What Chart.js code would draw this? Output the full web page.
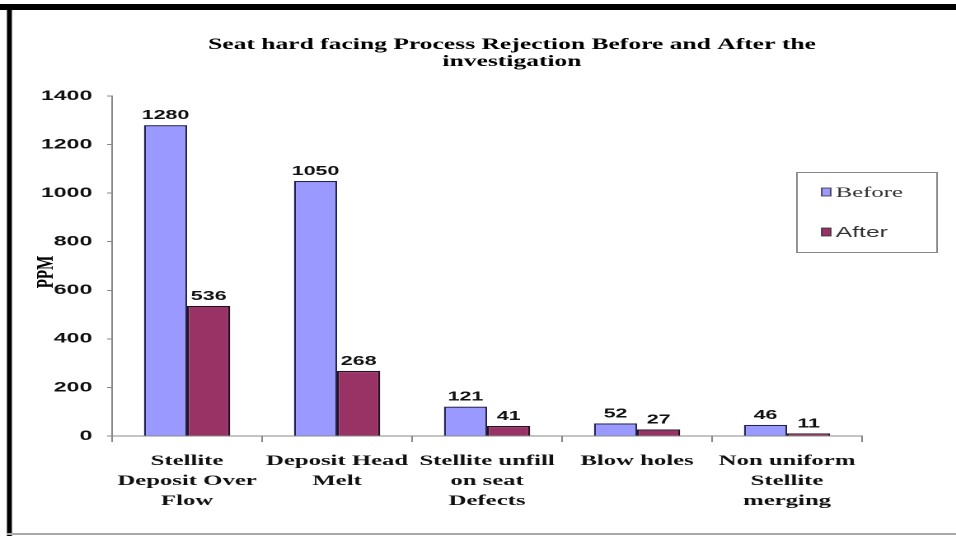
<!DOCTYPE html>
<html>
<head>
<meta charset="utf-8">
<script src="https://cdn.jsdelivr.net/npm/chart.js@4.4.1/dist/chart.umd.min.js"></script>
<style>
html,body{margin:0;padding:0;background:#fff;overflow:hidden;}
#wrap{width:956px;height:536px;overflow:hidden;}
canvas{display:block;transform-origin:0 0;transform:scaleX(1.648276);}
</style>
</head>
<body>
<div id="wrap"><canvas id="c" width="580" height="536"></canvas></div>
<script>
const chartTitle = ["Seat hard facing Process Rejection Before and After the", "investigation"];
const categories = [
  ["Stellite", "Deposit Over", "Flow"],
  ["Deposit Head", "Melt"],
  ["Stellite unfill", "on seat", "Defects"],
  ["Blow holes"],
  ["Non uniform", "Stellite", "merging"]
];
const seriesNames = ["Before", "After"];
const beforeValues = [1280, 1050, 121, 52, 46];
const afterValues = [536, 268, 41, 27, 11];
const yTicks = [0, 200, 400, 600, 800, 1000, 1200, 1400];
const yAxisTitle = "PPM";

const colors = ["#9999ff", "#993366"];

const decor = {
  id: "decor",
  afterDraw(chart) {
    const ctx = chart.ctx;
    ctx.save();
    // frame
    ctx.fillStyle = "#000";
    ctx.fillRect(0, 4, 580, 6);
    ctx.fillRect(4.2, 4, 3, 532);
    ctx.fillStyle = "#aaa";
    ctx.fillRect(4, 533, 576, 2);
    // title
    ctx.fillStyle = "#000";
    ctx.font = "bold 15.5px 'Liberation Serif', 'Times New Roman', serif";
    ctx.textAlign = "center";
    ctx.textBaseline = "middle";
    ctx.fillText(chartTitle[0], 310.6, 45);
    ctx.fillText(chartTitle[1], 310.6, 62);
    // y title
    ctx.save();
    ctx.translate(28, 272);
    ctx.rotate(-Math.PI / 2);
    ctx.font = "bold 15px 'Liberation Serif', serif";
    ctx.fillText(yAxisTitle, 0, 0);
    ctx.restore();
    // data labels
    ctx.font = "bold 13px 'Liberation Sans', Arial, sans-serif";
    ctx.textBaseline = "alphabetic";
    ctx.fillStyle = "#111";
    chart.data.datasets.forEach((ds, i) => {
      const meta = chart.getDatasetMeta(i);
      meta.data.forEach((bar, j) => {
        ctx.fillText(String(ds.data[j]), bar.x, bar.y - 6);
      });
    });
    // legend
    ctx.strokeStyle = "#888";
    ctx.lineWidth = 1;
    ctx.strokeRect(483.5, 172.5, 85, 80);
    const legendFonts = ["15px 'Liberation Serif', serif", "15px 'Liberation Sans', Arial, sans-serif"];
    seriesNames.forEach((name, i) => {
      const y = 192 + i * 40;
      ctx.fillStyle = colors[i];
      ctx.fillRect(498.5, y - 4, 5.5, 8);
      ctx.strokeStyle = "#333";
      ctx.lineWidth = 0.8;
      ctx.strokeRect(498.5, y - 4, 5.5, 8);
      ctx.fillStyle = "#333";
      ctx.font = legendFonts[i];
      ctx.textAlign = "left";
      ctx.textBaseline = "middle";
      ctx.fillText(name, 507, y + 1);
    });
    ctx.restore();
  }
};

new Chart(document.getElementById("c"), {
  type: "bar",
  data: {
    labels: categories,
    datasets: [
      { label: seriesNames[0], data: beforeValues, backgroundColor: colors[0], borderColor: "#222255", borderWidth: 1.2 },
      { label: seriesNames[1], data: afterValues, backgroundColor: colors[1], borderColor: "#221122", borderWidth: 1.2 }
    ]
  },
  options: {
    responsive: false,
    animation: false,
    devicePixelRatio: 2,
    layout: { padding: { left: 6, right: 57, top: 96, bottom: 0 } },
    datasets: { bar: { categoryPercentage: 0.575, barPercentage: 1.0 } },
    plugins: { legend: { display: false }, tooltip: { enabled: false }, title: { display: false } },
    scales: {
      x: {
        afterFit(s) { s.height = 100; },
        border: { color: "#888", width: 1 },
        grid: { display: true, drawOnChartArea: false, offset: true, tickLength: 6, color: "#888" },
        ticks: {
          color: "#111",
          font: { family: "'Liberation Serif', 'Times New Roman', serif", size: 15, weight: "bold", lineHeight: 1.33 },
          padding: 9,
          maxRotation: 0,
          autoSkip: false
        }
      },
      y: {
        min: 0, max: 1400,
        afterFit(s) { s.width = 62; },
        afterBuildTicks(s) { s.ticks = yTicks.map(v => ({ value: v })); },
        border: { color: "#888", width: 1 },
        grid: { display: true, drawOnChartArea: false, tickLength: 3, color: "#888" },
        ticks: {
          color: "#111",
          font: { family: "'Liberation Sans', Arial, sans-serif", size: 14, weight: "bold" },
          padding: 9,
          callback: v => String(v)
        }
      }
    }
  },
  plugins: [decor]
});
</script>
</body>
</html>
